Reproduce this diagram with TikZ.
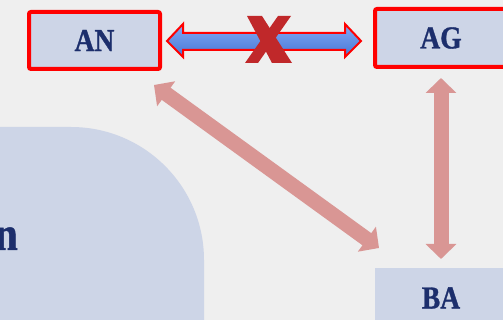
\documentclass[tikz,border=0pt]{standalone}
\usepackage{fontspec}
\setmainfont{Liberation Serif}[FakeStretch=0.86, BoldFeatures={FakeBold=1}]
\usetikzlibrary{arrows.meta}
\definecolor{bgc}{HTML}{EFEFEF}
\definecolor{boxc}{HTML}{CDD5E7}
\definecolor{txtc}{HTML}{1C2E6C}
\definecolor{pinkc}{HTML}{D99694}
\definecolor{xred}{HTML}{C0282A}
\definecolor{bluetop}{HTML}{82AAF6}
\definecolor{bluebot}{HTML}{4777D5}
\tikzset{
  box/.style={fill=boxc, text=txtc, font=\fontsize{32}{36}\selectfont\bfseries, inner sep=0pt},
  redbox/.style={box, draw=red, line width=4pt, rounded corners=2pt},
  pinkarrow/.style={draw=pinkc, line width=15pt,
    arrows={Triangle[width=30pt,length=15pt]-Triangle[width=30pt,length=15pt]}},
}
\begin{document}
\begin{tikzpicture}[x=1pt,y=-1pt]
\useasboundingbox (0,0) rectangle (503,320);
\fill[bgc] (0,0) rectangle (503,320);
% big rounded panel
\fill[boxc] (-10,330) -- (-10,127) -- (71,127) arc[start angle=-90, end angle=0, radius=133] -- (204,330) -- cycle;
\node[anchor=base east, text=txtc, font=\fontsize{48}{52}\selectfont\bfseries, inner sep=0pt] (nn) at (18,250) {n};
% boxes
\node[redbox, minimum width=131pt, minimum height=57pt] (AN) at (94.5,40.5) {AN};
\node[redbox, minimum width=132pt, minimum height=58pt] (AG) at (441,38) {AG};
\node[box, minimum width=132pt, minimum height=62pt] (BA) at (441,299) {};
\node[text=txtc, font=\fontsize{32}{36}\selectfont\bfseries, inner sep=0pt] (BAt) at (441,298) {BA};
% blue double arrow
\coordinate (bl) at (167,41);
\coordinate (br) at (361,41);
\path[draw=red, line width=2pt, line join=miter, top color=bluetop, bottom color=bluebot]
  (bl) -- (183,24) -- (183,33) -- (345,33) -- (345,24) -- (br) -- (345,57) -- (345,50) -- (183,50) -- (183,57) -- cycle;
% red X
\fill[xred] (247,16) -- (262,16) -- (292,63) -- (272,63) -- cycle;
\fill[xred] (278,16) -- (291,16) -- (258,63) -- (245,63) -- cycle;
% pink arrows
\coordinate (d1) at (154,85);
\coordinate (d2) at (379,248);
\draw[pinkarrow] (d1) -- (d2);
\coordinate (v1) at (441,78);
\coordinate (v2) at (441,259);
\draw[pinkarrow] (v1) -- (v2);
\end{tikzpicture}
\end{document}
